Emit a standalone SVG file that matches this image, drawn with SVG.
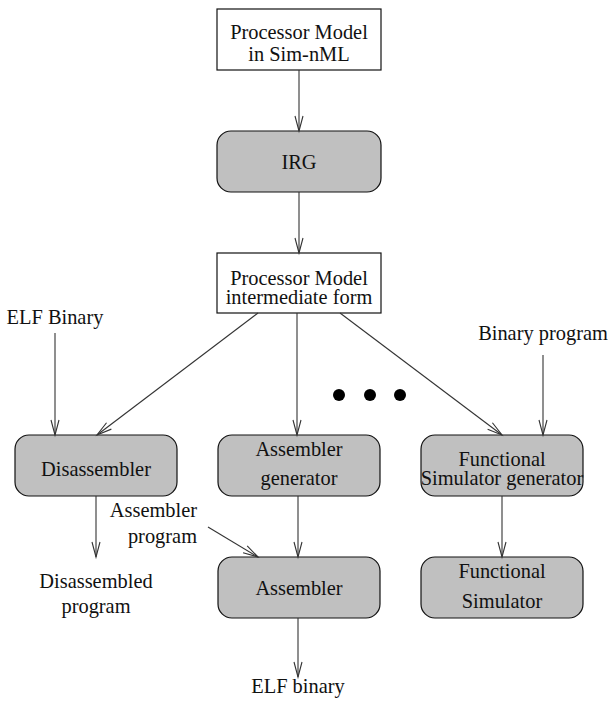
<svg xmlns="http://www.w3.org/2000/svg" width="608" height="714" viewBox="0 0 608 714">
<style>
text{font-family:"Liberation Serif","Times New Roman",serif;font-size:20.4px;fill:#111;text-anchor:middle}
.box{fill:#fff;stroke:#111;stroke-width:1.2}
.rbox{fill:#c0c0c0;stroke:#111;stroke-width:1.2}
.c line{stroke:#333;stroke-width:1.1;marker-end:url(#ah)}
</style>
<defs>
<marker id="ah" markerUnits="userSpaceOnUse" markerWidth="17" markerHeight="10" refX="15" refY="4.5" orient="auto" overflow="visible">
<path d="M0,0.5 L15,4.5 L0,8.5" fill="none" stroke="#333" stroke-width="1.1"/>
</marker>
</defs>
<rect width="608" height="714" fill="#fff"/>
<g id="pm-simnml"><rect class="box" x="217" y="9" width="164" height="61"/><text x="299" y="39">Processor Model</text><text x="299" y="61">in Sim-nML</text></g>
<g id="irg"><rect class="rbox" x="217" y="131" width="164" height="61" rx="14"/><text x="299" y="169">IRG</text></g>
<g id="pm-inter"><rect class="box" x="217" y="253" width="164" height="60"/><text x="299" y="285">Processor Model</text><text x="299" y="304">intermediate form</text></g>
<g id="disasm"><rect class="rbox" x="15" y="435" width="162" height="61" rx="14"/><text x="96" y="476">Disassembler</text></g>
<g id="asmgen"><rect class="rbox" x="218" y="435" width="162" height="61" rx="14"/><text x="299" y="456">Assembler</text><text x="299" y="485">generator</text></g>
<g id="funcgen"><rect class="rbox" x="421" y="435" width="162" height="61" rx="14"/><text x="502" y="466">Functional</text><text x="502" y="485">Simulator generator</text></g>
<g id="asm"><rect class="rbox" x="218" y="557" width="162" height="61" rx="14"/><text x="299" y="595">Assembler</text></g>
<g id="funcsim"><rect class="rbox" x="421" y="557" width="162" height="61" rx="14"/><text x="502" y="578">Functional</text><text x="502" y="608">Simulator</text></g>
<g id="labels">
<text x="55" y="324">ELF Binary</text>
<text x="543" y="340">Binary program</text>
<text x="197" y="517" style="text-anchor:end">Assembler</text>
<text x="197" y="543" style="text-anchor:end">program</text>
<text x="96" y="588">Disassembled</text>
<text x="96" y="613">program</text>
<text x="298" y="693">ELF binary</text>
</g>
<g id="dots" fill="#000"><circle cx="339" cy="395" r="6"/><circle cx="370" cy="395" r="6"/><circle cx="400" cy="395" r="6"/></g>
<g id="connectors" class="c">
<line x1="299" y1="70" x2="299" y2="131"/>
<line x1="299" y1="192" x2="299" y2="253"/>
<line x1="55" y1="333" x2="55" y2="435"/>
<line x1="258" y1="313" x2="97" y2="435"/>
<line x1="297" y1="313" x2="297" y2="435"/>
<line x1="340" y1="313" x2="502" y2="435"/>
<line x1="543" y1="355" x2="543" y2="435"/>
<line x1="96" y1="496" x2="96" y2="557"/>
<line x1="298" y1="496" x2="298" y2="557"/>
<line x1="208" y1="527" x2="258" y2="557"/>
<line x1="502" y1="496" x2="502" y2="557"/>
<line x1="298" y1="618" x2="298" y2="677"/>
</g>
</svg>
